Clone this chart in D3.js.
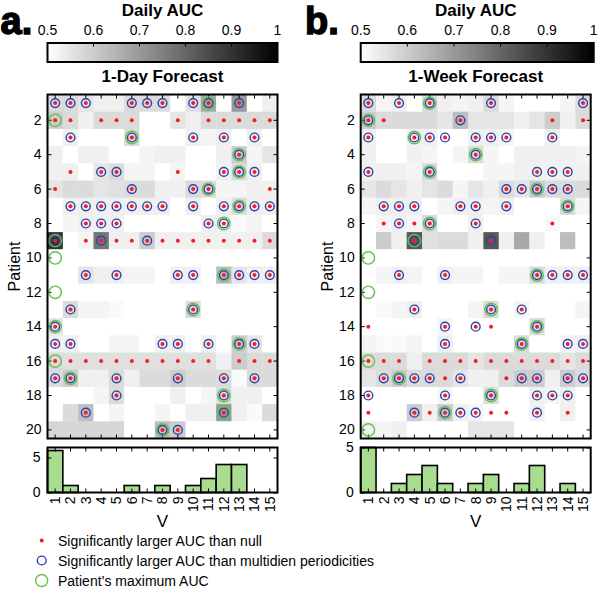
<!DOCTYPE html>
<html>
<head>
<meta charset="utf-8">
<script src="https://cdn.jsdelivr.net/npm/d3@7"></script>
<style>
  body { margin: 0; background: #fff; }
  text { font-family: Helvetica, Arial, "Liberation Sans", sans-serif; }
</style>
</head>
<body>
<div id="canvas"></div>
<script>
// Forecast horizons (V) and patients.
const vValues = d3.range(1, 16);
const patients = d3.range(1, 21);
const barTicks = [0.5, 0.6, 0.7, 0.8, 0.9, 1];

// Daily AUC, one row per patient, one value per V (1-day forecast).
const aucDay = [
  [.57,.57,.55,.53,.53,.57,.57,.57,.50,.56,.67,.50,.70,.50,.53],
  [.60,.57,.53,.57,.57,.57,.50,.50,.55,.53,.57,.57,.57,.57,.57],
  [.50,.53,.50,.50,.50,.57,.50,.50,.50,.53,.52,.53,.50,.53,.50],
  [.53,.50,.53,.53,.50,.50,.52,.53,.53,.50,.50,.53,.60,.52,.55],
  [.53,.53,.50,.55,.57,.52,.52,.50,.52,.50,.50,.53,.57,.53,.50],
  [.55,.57,.57,.55,.56,.57,.57,.53,.53,.57,.57,.52,.52,.53,.53],
  [.50,.53,.53,.53,.53,.53,.53,.53,.50,.53,.50,.53,.57,.53,.53],
  [.50,.52,.53,.53,.53,.50,.50,.50,.50,.50,.53,.53,.51,.52,.50],
  [.90,.50,.52,.77,.53,.53,.60,.53,.53,.53,.53,.53,.53,.53,.57],
  [.50,.50,.50,.50,.50,.50,.50,.50,.50,.50,.50,.50,.50,.50,.50],
  [.50,.50,.55,.53,.53,.52,.52,.50,.53,.53,.50,.63,.55,.53,.53],
  [.50,.50,.50,.50,.50,.50,.50,.50,.50,.50,.50,.50,.50,.50,.50],
  [.50,.57,.52,.52,.51,.50,.50,.50,.50,.57,.50,.50,.50,.50,.50],
  [.55,.50,.50,.50,.50,.50,.50,.50,.50,.50,.50,.50,.50,.50,.50],
  [.53,.53,.50,.50,.52,.52,.50,.53,.53,.50,.53,.50,.60,.55,.50],
  [.57,.56,.56,.56,.56,.56,.56,.56,.56,.56,.56,.53,.60,.57,.57],
  [.57,.60,.53,.53,.57,.53,.57,.57,.60,.57,.57,.57,.51,.57,.57],
  [.50,.50,.50,.52,.57,.50,.50,.50,.53,.50,.52,.57,.53,.53,.50],
  [.50,.57,.63,.50,.52,.50,.50,.52,.50,.53,.53,.70,.53,.51,.57],
  [.58,.58,.58,.58,.58,.50,.50,.63,.60,.50,.50,.50,.50,.50,.50]
];

// Daily AUC for the 1-week forecast.
const aucWeek = [
  [.57,.52,.53,.50,.57,.53,.52,.53,.57,.52,.50,.50,.50,.52,.57],
  [.60,.57,.57,.57,.57,.55,.63,.55,.55,.55,.53,.55,.60,.53,.57],
  [.53,.50,.50,.53,.53,.50,.50,.53,.53,.52,.50,.50,.53,.50,.50],
  [.53,.50,.50,.53,.52,.50,.52,.57,.52,.50,.53,.53,.53,.53,.52],
  [.53,.53,.53,.52,.57,.50,.50,.50,.52,.52,.53,.53,.53,.53,.53],
  [.55,.57,.55,.53,.55,.57,.52,.55,.53,.57,.55,.60,.57,.57,.57],
  [.52,.53,.53,.53,.50,.52,.53,.53,.52,.53,.50,.50,.50,.57,.52],
  [.50,.52,.53,.52,.57,.50,.50,.53,.50,.50,.50,.50,.51,.50,.50],
  [.50,.60,.53,.83,.56,.57,.57,.53,.83,.53,.67,.53,.50,.63,.50],
  [.50,.50,.50,.50,.50,.50,.50,.50,.50,.50,.50,.50,.50,.50,.50],
  [.50,.52,.53,.52,.50,.53,.52,.52,.50,.52,.52,.57,.53,.53,.53],
  [.50,.50,.50,.50,.50,.50,.50,.50,.50,.50,.50,.50,.50,.50,.50],
  [.50,.51,.52,.53,.50,.50,.50,.52,.57,.50,.52,.50,.50,.50,.52],
  [.50,.50,.50,.50,.50,.52,.50,.50,.50,.50,.50,.57,.50,.50,.50],
  [.52,.51,.51,.52,.50,.53,.50,.50,.50,.50,.57,.50,.50,.52,.53],
  [.57,.57,.57,.53,.57,.57,.57,.55,.57,.57,.57,.57,.57,.55,.57],
  [.55,.57,.60,.57,.57,.57,.55,.53,.53,.57,.60,.60,.53,.60,.57],
  [.50,.50,.50,.50,.50,.52,.50,.50,.57,.50,.50,.53,.52,.53,.50],
  [.50,.50,.50,.60,.53,.60,.53,.52,.50,.50,.50,.53,.50,.53,.50],
  [.53,.52,.53,.50,.50,.50,.50,.55,.55,.55,.50,.50,.50,.50,.50]
];

// Significance per cell: "." none, "r" larger than null, "b" also larger than multidien periodicities.
const sigDay = [
  "bbb..bbb.bb.b..", "rr.rrr..r.rrrrr", ".b...b...b.b.b.", "............b..",
  ".r.bb...r..bbb.", "r....b...bb...r", ".bbbbbbb.b.bbbb", "..bbb.....bb...",
  "b.rbrrbrrrrrrrr", "...............", "..b.b...bb.bbbb", "...............",
  ".b.......b.....", "b..............", "bb.....bb.b.bb.", "rrrrrrrrrrr.rrr",
  "bb..b...b..b.b.", "....b......b...", "..b........b...", ".......bb......"
];
const sigWeek = [
  "b.b.b...b.....b", "br....b.....r.r", "b..bbb.bbb..b..", ".......b.......",
  "b...b......bbb.", ".........bbbbb.", ".bbb..bb.b...b.", ".rbrb..b....r..",
  "...b....b......", "...............", "..b..b.....bbbb", "...............",
  "...b....b.b....", "r....b.br..b...", ".....b....b..bb", "rrr.rrrrrrrrrrr",
  ".bbbbrb..rbb.bb", "b....b..b..bbb.", "r..brbbbrr.b.r.", "..............."
];

// V giving each patient's maximum AUC.
const maxDay = [11, 1, 6, 13, 13, 11, 13, 12, 1, 1, 12, 1, 10, 1, 13, 1, 2, 12, 12, 8];
const maxWeek = [5, 1, 4, 8, 5, 12, 14, 5, 4, 1, 12, 1, 9, 12, 11, 1, 3, 9, 6, 1];

const legendItems = [
  "Significantly larger AUC than null",
  "Significantly larger AUC than multidien periodicities",
  "Patient\u2019s maximum AUC"
];

// Layout.
const W = 230;
const HM_TOP = 94.5, HM_BOTTOM = 438.5;
const H_TOP = 447.5, H_BOTTOM = 492.5;
const RED = "#f21d25", BLUE = "#2f3fae", GREEN = "#63c24b", BAR = "#a8dc8e";

const svg = d3.select("#canvas")
  .append("svg")
  .attr("width", 598)
  .attr("height", 590);

const gray = d3.scaleLinear().domain([0.5, 1]).range(["#ffffff", "#000000"]).clamp(true);

const defs = svg.append("defs");
const grad = defs.append("linearGradient").attr("id", "cbar");
grad.selectAll("stop")
  .data(d3.range(0, 1.01, 0.1))
  .enter().append("stop")
  .attr("offset", d => d)
  .attr("stop-color", d => gray(0.5 + d * 0.5));

function drawPanel(p) {
  const g = svg.append("g");
  const x = d3.scaleBand().domain(vValues).range([p.x0, p.x0 + W]);
  const y = d3.scaleBand().domain(patients).range([HM_TOP, HM_BOTTOM]);

  // Panel letter and titles.
  g.append("text")
    .attr("x", p.letterX).attr("y", 34)
    .attr("font-size", 38).attr("font-weight", "bold")
    .attr("stroke", "#000").attr("stroke-width", 1.4)
    .text(p.letter);
  g.append("text")
    .attr("x", p.x0 + W / 2).attr("y", 15.5)
    .attr("text-anchor", "middle").attr("font-size", 17).attr("font-weight", "bold")
    .text("Daily AUC");
  g.append("text")
    .attr("x", p.x0 + W / 2).attr("y", 82)
    .attr("text-anchor", "middle").attr("font-size", 17).attr("font-weight", "bold")
    .text(p.title);

  // Colour bar.
  const cb = d3.scaleLinear().domain([0.5, 1]).range([p.x0, p.x0 + p.cbW]);
  g.append("rect")
    .attr("x", p.x0).attr("y", 43).attr("width", p.cbW).attr("height", 19)
    .attr("fill", "url(#cbar)").attr("stroke", "#000").attr("stroke-width", 2);
  g.selectAll(".cbtick")
    .data(barTicks.slice(1, -1))
    .enter().append("line")
    .attr("x1", d => cb(d)).attr("x2", d => cb(d))
    .attr("y1", 43).attr("y2", 46.5)
    .attr("stroke", "#000").attr("stroke-width", 1);
  g.selectAll(".cblabel")
    .data(barTicks)
    .enter().append("text")
    .attr("x", d => cb(d)).attr("y", 35)
    .attr("text-anchor", "middle").attr("font-size", 14)
    .text(d => d3.format("~g")(d));

  // Heatmap cells.
  p.auc.forEach((row, i) => {
    g.selectAll(null)
      .data(row)
      .enter().append("rect")
      .attr("x", (d, j) => x(vValues[j]))
      .attr("y", y(patients[i]))
      .attr("width", x.bandwidth() + 0.4)
      .attr("height", y.bandwidth() + 0.4)
      .attr("fill", d => gray(d));
  });

  // Axes ticks (inward) on all four sides.
  g.append("g").attr("transform", `translate(0,${HM_TOP})`)
    .call(d3.axisTop(x).tickSize(-4).tickFormat(""));
  g.append("g").attr("transform", `translate(0,${HM_BOTTOM})`)
    .call(d3.axisBottom(x).tickSize(-4).tickFormat(""));
  const evenRows = patients.filter(d => d % 2 === 0);
  g.append("g").attr("class", "yl").attr("transform", `translate(${p.x0},0)`)
    .call(d3.axisLeft(y).tickValues(evenRows).tickSize(-4).tickPadding(6));
  g.append("g").attr("transform", `translate(${p.x0 + W},0)`)
    .call(d3.axisRight(y).tickValues(evenRows).tickSize(-4).tickFormat(""));

  // Significance markers.
  const cells = [];
  p.sig.forEach((s, i) => s.split("").forEach((c, j) => {
    if (c !== ".") cells.push({ p: patients[i], v: vValues[j], c });
  }));
  g.selectAll(".blue")
    .data(cells.filter(d => d.c === "b"))
    .enter().append("circle")
    .attr("cx", d => x(d.v) + x.bandwidth() / 2)
    .attr("cy", d => y(d.p) + y.bandwidth() / 2)
    .attr("r", 4.4)
    .attr("fill", "none").attr("stroke", BLUE).attr("stroke-width", 1.4);
  g.selectAll(".red")
    .data(cells)
    .enter().append("circle")
    .attr("cx", d => x(d.v) + x.bandwidth() / 2)
    .attr("cy", d => y(d.p) + y.bandwidth() / 2)
    .attr("r", 2)
    .attr("fill", RED);
  g.selectAll(".green")
    .data(p.max)
    .enter().append("circle")
    .attr("cx", d => x(d) + x.bandwidth() / 2)
    .attr("cy", (d, i) => y(patients[i]) + y.bandwidth() / 2)
    .attr("r", 6.2)
    .attr("fill", "none").attr("stroke", GREEN).attr("stroke-width", 1.4);

  g.append("rect")
    .attr("x", p.x0).attr("y", HM_TOP).attr("width", W).attr("height", HM_BOTTOM - HM_TOP)
    .attr("fill", "none").attr("stroke", "#000").attr("stroke-width", 2);

  g.append("text")
    .attr("transform", `translate(${p.x0 - 28},${(HM_TOP + HM_BOTTOM) / 2}) rotate(-90)`)
    .attr("text-anchor", "middle").attr("font-size", 16)
    .text("Patient");

  // Histogram of the V giving each patient's maximum AUC.
  const counts = vValues.map(v => ({ v, n: p.max.filter(m => m === v).length }))
    .filter(d => d.n > 0);
  const yH = d3.scaleLinear().domain([0, p.hMax]).range([H_BOTTOM, H_TOP]);
  g.selectAll(".bar")
    .data(counts)
    .enter().append("rect")
    .attr("x", d => x(d.v))
    .attr("y", d => yH(d.n))
    .attr("width", x.bandwidth())
    .attr("height", d => yH(0) - yH(d.n))
    .attr("fill", BAR).attr("stroke", "#000").attr("stroke-width", 1.6);

  g.append("g").attr("transform", `translate(0,${H_TOP})`)
    .call(d3.axisTop(x).tickSize(-4).tickFormat(""));
  g.append("g").attr("transform", `translate(0,${H_BOTTOM})`)
    .call(d3.axisBottom(x).tickSize(-4).tickFormat(""));
  g.append("g").attr("class", "yl").attr("transform", `translate(${p.x0},0)`)
    .call(d3.axisLeft(yH).tickValues([0, 5]).tickFormat(d3.format("d")).tickSize(-4).tickPadding(7));
  g.append("g").attr("transform", `translate(${p.x0 + W},0)`)
    .call(d3.axisRight(yH).tickValues([0, 5]).tickSize(-4).tickFormat(""));

  g.append("rect")
    .attr("x", p.x0).attr("y", H_TOP).attr("width", W).attr("height", H_BOTTOM - H_TOP)
    .attr("fill", "none").attr("stroke", "#000").attr("stroke-width", 2);

  g.selectAll(".vlabel")
    .data(vValues)
    .enter().append("text")
    .attr("transform", d => `translate(${x(d) + x.bandwidth() / 2},${H_BOTTOM + 4}) rotate(-90)`)
    .attr("text-anchor", "end").attr("dy", "0.35em").attr("font-size", 14)
    .text(d => d);
  g.append("text")
    .attr("x", p.x0 + W / 2).attr("y", 527)
    .attr("text-anchor", "middle").attr("font-size", 17)
    .text("V");
}

drawPanel({ x0: 47.5, letterX: 0.5, cbW: 230, letter: "a.", title: "1-Day Forecast", auc: aucDay, sig: sigDay, max: maxDay, hMax: 6.43 });
drawPanel({ x0: 360.7, letterX: 305, cbW: 233, letter: "b.", title: "1-Week Forecast", auc: aucWeek, sig: sigWeek, max: maxWeek, hMax: 5 });

// Axis styling.
svg.selectAll(".domain").remove();
svg.selectAll(".tick line").attr("stroke", "#000").attr("stroke-width", 1);
svg.selectAll(".yl .tick text").attr("font-size", 14).attr("fill", "#000")
  .attr("font-family", "Helvetica, Arial, 'Liberation Sans', sans-serif");

// Legend.
const legend = svg.append("g");
legendItems.forEach((t, i) => {
  const cy = 540.5 + i * 20;
  if (i === 0) legend.append("circle").attr("cx", 41.7).attr("cy", cy).attr("r", 2).attr("fill", RED);
  if (i === 1) legend.append("circle").attr("cx", 41.7).attr("cy", cy).attr("r", 4.4)
    .attr("fill", "none").attr("stroke", BLUE).attr("stroke-width", 1.4);
  if (i === 2) legend.append("circle").attr("cx", 41.7).attr("cy", cy).attr("r", 6)
    .attr("fill", "none").attr("stroke", GREEN).attr("stroke-width", 1.4);
  legend.append("text")
    .attr("x", 58).attr("y", cy + 5.5)
    .attr("font-size", 14)
    .text(t);
});
</script>
</body>
</html>
